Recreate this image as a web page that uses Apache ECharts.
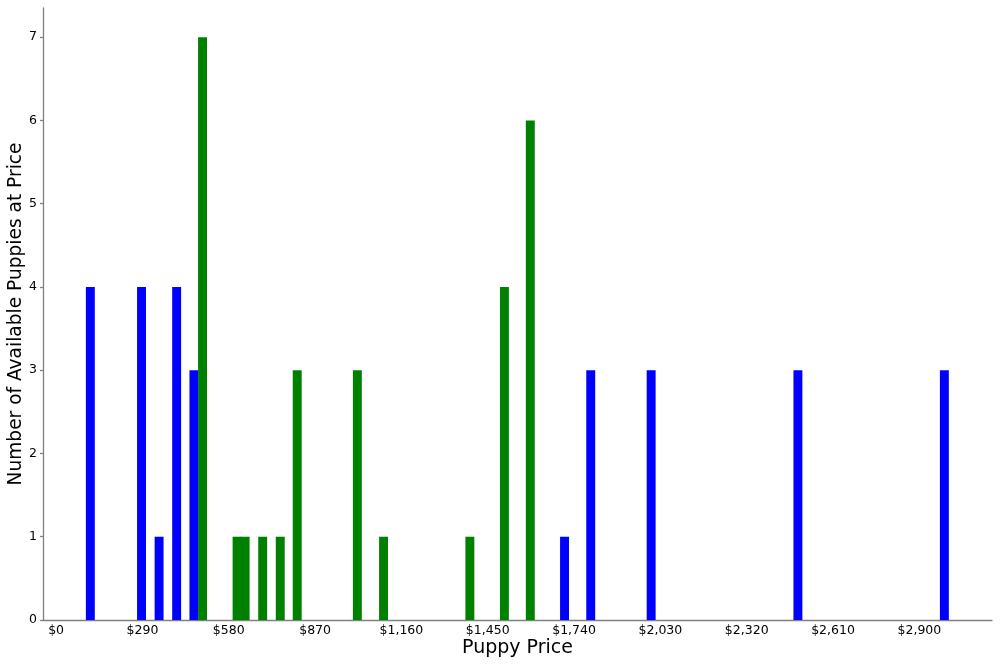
<!DOCTYPE html>
<html>
<head>
<meta charset="utf-8">
<script src="https://cdn.jsdelivr.net/npm/echarts@6/dist/echarts.min.js"></script>
<style>
  html, body { margin: 0; padding: 0; background: #fff; }
  #main { width: 1000px; height: 666px; }
</style>
</head>
<body>
<div id="main"></div>
<script>
// prices and counts
let bluePrices = [115, 287, 346, 405, 463, 1708, 1796, 1999, 2492, 2984]
let blueCounts = [4, 4, 1, 4, 3, 1, 3, 3, 3, 3]

let greenPrices = [492, 608, 635, 694, 753, 810, 1012, 1100, 1390, 1506, 1593]
let greenCounts = [7, 1, 1, 1, 1, 3, 3, 1, 1, 4, 6]

let priceTicks = [0, 290, 580, 870, 1160, 1450, 1740, 2030, 2320, 2610, 2900]
let countTicks = [0, 1, 2, 3, 4, 5, 6, 7]

let barWidth = 30 // in price units

function pairs(xs, ys) {
  let out = []
  for (let i = 0; i < xs.length; i++) out.push([xs[i], ys[i]])
  return out
}

// draw each bar as a rect through the axis scales
function renderBar(params, api) {
  let x = api.value(0)
  let y = api.value(1)
  let p0 = api.coord([x - barWidth / 2, y])
  let p1 = api.coord([x + barWidth / 2, 0])
  return {
    type: 'rect',
    shape: { x: p0[0], y: p0[1], width: p1[0] - p0[0], height: p1[1] - p0[1] },
    style: { fill: api.visual('color') }
  }
}

let myChart = echarts.init(document.getElementById('main'))

let axisLineStyle = { color: '#808080', width: 1.3 }

let option = {
  animation: false,
  textStyle: { fontFamily: 'DejaVu Sans' },
  grid: { left: 43, right: 8, top: 8, bottom: 46, containLabel: false, outerBoundsMode: 'none' },
  xAxis: {
    type: 'value',
    min: -44,
    max: 3144,
    name: 'Puppy Price',
    nameLocation: 'middle',
    nameGap: 19,
    nameMoveOverlap: false,
    nameTextStyle: { fontSize: 19, color: '#000', verticalAlign: 'top' },
    axisLine: { show: true, onZero: false, lineStyle: axisLineStyle },
    axisTick: { show: false },
    splitLine: { show: false },
    axisLabel: {
      customValues: priceTicks,
      color: '#000',
      fontSize: 12.5,
      margin: 4,
      formatter: function (v) {
        return '$' + v.toLocaleString('en-US')
      }
    }
  },
  yAxis: {
    type: 'value',
    min: 0,
    max: 7.35,
    name: 'Number of Available Puppies at Price',
    nameLocation: 'middle',
    nameGap: 17,
    nameMoveOverlap: false,
    nameTextStyle: { fontSize: 18.6, color: '#000' },
    axisLine: { show: true, onZero: false, lineStyle: axisLineStyle },
    axisTick: { show: true, customValues: countTicks, length: 3, lineStyle: axisLineStyle },
    splitLine: { show: false },
    axisLabel: { customValues: countTicks, color: '#000', fontSize: 12.5, margin: 6 }
  },
  series: [
    {
      name: 'blue',
      type: 'custom',
      renderItem: renderBar,
      itemStyle: { color: '#0000ff' },
      encode: { x: 0, y: 1 },
      data: pairs(bluePrices, blueCounts)
    },
    {
      name: 'green',
      type: 'custom',
      renderItem: renderBar,
      itemStyle: { color: '#008000' },
      encode: { x: 0, y: 1 },
      data: pairs(greenPrices, greenCounts)
    }
  ]
}

myChart.setOption(option)
</script>
</body>
</html>
